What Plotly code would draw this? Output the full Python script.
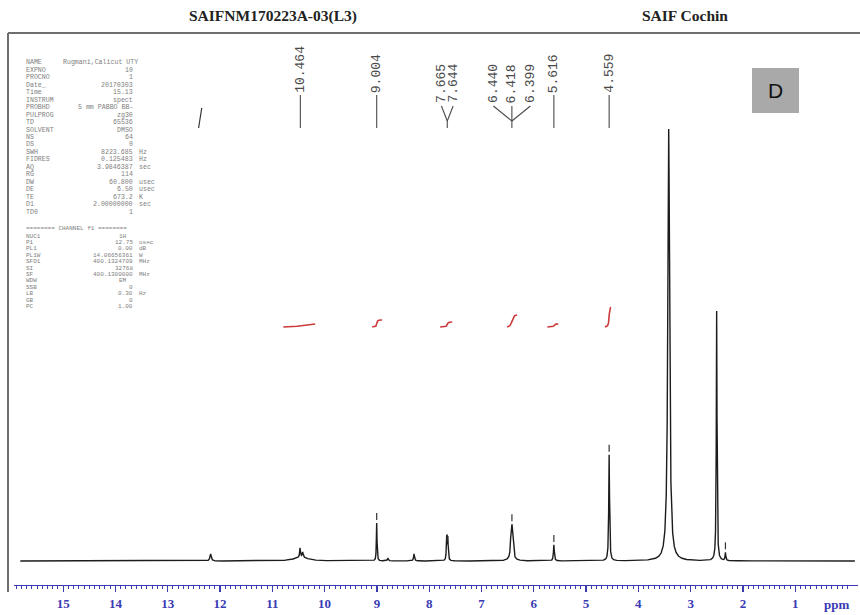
import numpy as np
import plotly.graph_objects as go

# ---------------- data ----------------
TITLE_LEFT = "SAIFNM170223A-03(L3)"
TITLE_RIGHT = "SAIF Cochin"
PANEL_TAG = "D"

# peaks of the 1H spectrum: position (ppm), height (plot units), half width (ppm)
PEAK_PPM = [12.18, 10.45, 10.47, 10.42, 9.004, 8.79, 8.29, 7.665, 7.644,
            6.440, 6.418, 6.399, 6.42, 5.616, 4.559, 3.42, 2.503, 2.335]
PEAK_HEIGHT = [7, 4, 9, 5, 38, 3, 7, 23, 22,
               15, 26, 15, 4, 16, 106, 432, 250, 8]
PEAK_HWHM = [0.015, 0.15, 0.008, 0.01, 0.007, 0.01, 0.01, 0.008, 0.008,
             0.011, 0.011, 0.011, 0.06, 0.01, 0.009, 0.02, 0.008, 0.008]

# peak-pick labels (grouped as drawn)
LABEL_GROUPS = [["10.464"], ["9.004"], ["7.665", "7.644"],
                ["6.440", "6.418", "6.399"], ["5.616"], ["4.559"]]
# small peak-pick markers drawn above peaks
PICK_PPM = [9.004, 7.655, 6.418, 5.616, 4.559, 2.335]

# integrals: region start/end (ppm) and rise (plot units)
INT_START = [10.79, 9.09, 7.79, 6.51, 5.74, 4.64]
INT_END = [10.18, 8.90, 7.56, 6.32, 5.53, 4.53]
INT_RISE = [3, 7, 5, 12, 3, 20]
# extra dark integral-like stroke near 12.4 ppm
MARK_START, MARK_END, MARK_RISE = 12.41, 12.35, 20

SPEC_START, SPEC_END = 15.82, -0.14
TICK_VALUES = list(range(0, 16))
TICK_TEXT = [""] + [str(v) for v in range(1, 16)]
AXIS_UNIT = "ppm"

PARAMS_1 = [
    ("NAME", "Rugmani,Calicut UTY", ""), ("EXPNO", "10", ""), ("PROCNO", "1", ""),
    ("Date_", "20170303", ""), ("Time", "15.13", ""), ("INSTRUM", "spect", ""),
    ("PROBHD", "5 mm PABBO BB-", ""), ("PULPROG", "zg30", ""), ("TD", "65536", ""),
    ("SOLVENT", "DMSO", ""), ("NS", "64", ""), ("DS", "0", ""),
    ("SWH", "8223.685", "Hz"), ("FIDRES", "0.125483", "Hz"), ("AQ", "3.9846387", "sec"),
    ("RG", "114", ""), ("DW", "60.800", "usec"), ("DE", "6.50", "usec"),
    ("TE", "673.2", "K"), ("D1", "2.00000000", "sec"), ("TD0", "1", ""),
]
CHANNEL_HEADER = "======== CHANNEL f1 ========"
PARAMS_2 = [
    ("NUC1", "1H\u00a0\u00a0", ""), ("P1", "12.75", "usec"), ("PL1", "0.00", "dB"),
    ("PL1W", "14.06656361", "W"), ("SFO1", "400.1324709", "MHz"), ("SI", "32768", ""),
    ("SF", "400.1300000", "MHz"), ("WDW", "EM\u00a0\u00a0", ""), ("SSB", "0", ""),
    ("LB", "0.30", "Hz"), ("GB", "0", ""), ("PC", "1.00", ""),
]

# ---------------- layout / style ----------------
W, H = 860, 615
Y0 = 561                      # baseline pixel row
X_LEFT_PX, X_RIGHT_PX = 14, 858
X_RANGE = [15.94, -0.20]
PX_PER_PPM = (X_RIGHT_PX - X_LEFT_PX) / (X_RANGE[0] - X_RANGE[1])
BLUE = "#3a3ab4"
LABEL_COLOR = "#4a4a4a"
RED = "#cc3b3b"
GROUP_SPACING = {2: 11.7, 3: 18.5}


def dy(py):
    return Y0 - py


def spectrum(x):
    y = np.zeros_like(x)
    for p, h, w in zip(PEAK_PPM, PEAK_HEIGHT, PEAK_HWHM):
        y += h / (1.0 + ((x - p) / w) ** 2)
    return y


x = np.linspace(SPEC_START, SPEC_END, 24000)
y = spectrum(x)

fig = go.Figure()
fig.add_trace(go.Scatter(x=x, y=y, mode="lines",
                         line=dict(color="#1c1c1c", width=1.4),
                         hoverinfo="skip"))


def integral_curve(a, b, base, rise):
    xs = np.linspace(a, b, 200)
    cs = np.cumsum(spectrum(xs))
    cs = (cs - cs[0]) / (cs[-1] - cs[0])
    return xs, base + rise * cs


ix, iy = [], []
for a, b, r in zip(INT_START, INT_END, INT_RISE):
    xs, ys = integral_curve(a, b, dy(327), r)
    ix += list(xs) + [None]
    iy += list(ys) + [None]
fig.add_trace(go.Scatter(x=ix, y=iy, mode="lines",
                         line=dict(color=RED, width=1.6), hoverinfo="skip"))

mx, my = integral_curve(MARK_START, MARK_END, dy(128), MARK_RISE)
fig.add_trace(go.Scatter(x=mx, y=my, mode="lines",
                         line=dict(color="#333333", width=1.2), hoverinfo="skip"))

# peak-pick markers
pkx, pky = [], []
for p in PICK_PPM:
    v = float(spectrum(np.array([p]))[0])
    pkx += [p, p, None]
    pky += [v + 3, v + 10, None]
fig.add_trace(go.Scatter(x=pkx, y=pky, mode="lines",
                         line=dict(color="#333333", width=1.2), hoverinfo="skip"))

# peak labels and connectors
annotations = []
lx, ly = [], []
LF = dict(family="Liberation Mono", size=13, color=LABEL_COLOR)
for grp in LABEL_GROUPS:
    vals = [float(s) for s in grp]
    c = float(np.mean(vals))
    n = len(grp)
    if n == 1:
        annotations.append(dict(x=c, y=dy(94), xref="x", yref="y", text=grp[0],
                                textangle=-90, showarrow=False, xanchor="center",
                                yanchor="bottom", borderpad=0, font=LF))
        lx += [c, c, None]
        ly += [dy(95), dy(128), None]
    else:
        sp = GROUP_SPACING[n] / PX_PER_PPM
        for i, s in enumerate(grp):
            pos = c + ((n - 1) / 2.0 - i) * sp
            annotations.append(dict(x=pos, y=dy(104), xref="x", yref="y", text=s,
                                    textangle=-90, showarrow=False, xanchor="center",
                                    yanchor="bottom", borderpad=0, font=LF))
            lx += [pos, c, None]
            ly += [dy(106), dy(121), None]
        lx += [c, c, None]
        ly += [dy(121), dy(128), None]
fig.add_trace(go.Scatter(x=lx, y=ly, mode="lines",
                         line=dict(color=LABEL_COLOR, width=1.1), hoverinfo="skip"))


def paper_text(px, py, text, font, xanchor="center"):
    annotations.append(dict(x=px / W, y=1 - py / H, xref="paper", yref="paper",
                            text=text, showarrow=False, xanchor=xanchor,
                            yanchor="middle", borderpad=0, font=font))


TF = dict(family="Liberation Serif", size=15.5, color="#222")
paper_text(273, 16, "<b>%s</b>" % TITLE_LEFT, TF)
paper_text(685, 16, "<b>%s</b>" % TITLE_RIGHT, TF)
paper_text(775.5, 91, PANEL_TAG, dict(family="Liberation Sans", size=21, color="#111"))
paper_text(836, 604, "<b>%s</b>" % AXIS_UNIT,
           dict(family="Liberation Sans Narrow", size=13, color=BLUE))

# parameter block
PF1 = dict(family="Liberation Mono", size=6.6, color="#808080")
PF2 = dict(family="Liberation Mono", size=6.0, color="#808080")


def add_param(row, py, font):
    name, val, unit = row
    paper_text(25, py, name, font, "left")
    if name == "NAME":
        paper_text(62, py, val, font, "left")
    else:
        paper_text(134, py, val, font, "right")
    if unit:
        paper_text(138, py, unit, font, "left")


for i, row in enumerate(PARAMS_1):
    add_param(row, 63 + i * 7.45, PF1)
paper_text(25, 229, CHANNEL_HEADER, PF2, "left")
for i, row in enumerate(PARAMS_2):
    add_param(row, 236 + i * 6.4, PF2)

shapes = [
    dict(type="line", xref="paper", yref="paper", x0=8 / W, x1=1, y0=1 - 33 / H,
         y1=1 - 33 / H, line=dict(color="#6e6e6e", width=2)),
    dict(type="line", xref="paper", yref="paper", x0=8 / W, x1=8 / W, y0=1 - 33 / H,
         y1=1 - 592 / H, line=dict(color="#6e6e6e", width=2)),
    dict(type="rect", xref="paper", yref="paper", x0=752 / W, x1=799 / W,
         y0=1 - 113 / H, y1=1 - 68 / H, fillcolor="#a9a9a9", line=dict(width=0),
         layer="below"),
]

minor_vals = [round(v, 1) for v in np.arange(0.0, 15.95, 0.1)]

fig.update_layout(
    width=W, height=H, margin=dict(l=0, r=0, t=0, b=0),
    paper_bgcolor="white", plot_bgcolor="white", showlegend=False,
    annotations=annotations, shapes=shapes,
    xaxis=dict(domain=[X_LEFT_PX / W, X_RIGHT_PX / W], range=X_RANGE,
               anchor="free", position=1 - 585 / H, side="bottom",
               showline=True, linecolor=BLUE, linewidth=1.2,
               ticks="outside", ticklen=6, tickwidth=1.2, tickcolor=BLUE,
               tickmode="array", tickvals=TICK_VALUES, ticktext=TICK_TEXT,
               tickfont=dict(family="Liberation Sans Narrow", size=13, color=BLUE,
                             weight="bold"),
               showgrid=False, zeroline=False, fixedrange=True,
               minor=dict(tickmode="array", tickvals=minor_vals, ticks="outside",
                          ticklen=3, tickcolor=BLUE, tickwidth=1, showgrid=False)),
    yaxis=dict(domain=[0, 1], range=[-(H - Y0), Y0], visible=False, fixedrange=True),
)

fig.write_html("out.html",
               config={"displayModeBar": False, "staticPlot": True},
               post_script="document.body.style.margin='0';"
                           "document.body.style.overflow='hidden';")
